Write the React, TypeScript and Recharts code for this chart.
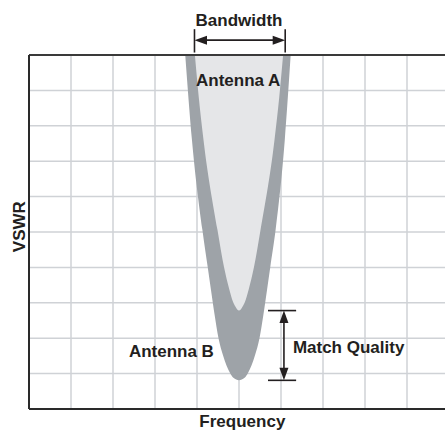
import React from 'react';
import {
  ComposedChart,
  Area,
  XAxis,
  YAxis,
  CartesianGrid,
  ReferenceLine,
  ReferenceDot,
} from 'recharts';

// Antenna B (outer, dark band) – frequency vs VSWR (grid units)
const freqB = [3.72, 3.88, 4.129, 4.255, 4.333, 4.419, 4.512, 4.619, 4.786, 4.867, 5.0, 5.133, 5.214, 5.381, 5.488, 5.581, 5.667, 5.745, 5.871, 6.09, 6.23];
const vswrB = [10, 7.6, 5.06, 4.01, 3.36, 2.66, 2.0, 1.52, 1.02, 0.88, 0.81, 0.88, 1.02, 1.52, 2.0, 2.66, 3.36, 4.01, 5.06, 7.6, 10];

// Antenna A (inner, light region)
const freqA = [3.95, 4.04, 4.155, 4.488, 4.643, 4.771, 4.857, 4.917, 5.0, 5.083, 5.143, 5.229, 5.357, 5.512, 5.845, 5.96, 6.05];
const vswrA = [10, 8.83, 7.6, 5.06, 4.01, 3.37, 3.03, 2.89, 2.78, 2.89, 3.03, 3.37, 4.01, 5.06, 7.6, 8.83, 10];

const gridTicks = [0, 1, 2, 3, 4, 5, 6, 7, 8, 9, 10];

// annotation anchors (data units)
const bandwidthEdges = [3.94, 6.1];
const bandwidthBar = [10.07, 10.73];
const bandwidthArrowY = 10.42;
const matchTicksX = [5.69, 6.36];
const matchArrowX = 6.07;

const seriesA = freqA.map((f, i) => ({ f, v: vswrA[i] }));
const seriesB = freqB.map((f, i) => ({ f, v: vswrB[i] }));
const matchTop = Math.min(...vswrA);
const matchBottom = Math.min(...vswrB);

const FONT = '"Liberation Sans", Arial, Helvetica, sans-serif';
const INK = '#231f20';
const DARK = '#9ea3a8';
const LIGHT = '#e5e6e8';
const GRID = '#cfd2d6';

const labelStyle = {
  fill: INK,
  fontSize: 17,
  fontWeight: 'bold',
  fontFamily: FONT,
};

const DoubleArrow = (props: any) => {
  const { x1, y1, x2, y2 } = props;
  const dx = x2 - x1;
  const dy = y2 - y1;
  const len = Math.hypot(dx, dy) || 1;
  const ux = dx / len;
  const uy = dy / len;
  const px = -uy;
  const py = ux;
  const L = 12.5;
  const W = 4.5;
  const head1 = `${x1},${y1} ${x1 + ux * L + px * W},${y1 + uy * L + py * W} ${x1 + ux * L - px * W},${y1 + uy * L - py * W}`;
  const head2 = `${x2},${y2} ${x2 - ux * L + px * W},${y2 - uy * L + py * W} ${x2 - ux * L - px * W},${y2 - uy * L - py * W}`;
  return (
    <g>
      <line
        x1={x1 + ux * L * 0.7}
        y1={y1 + uy * L * 0.7}
        x2={x2 - ux * L * 0.7}
        y2={y2 - uy * L * 0.7}
        stroke={INK}
        strokeWidth={1.6}
      />
      <polygon points={head1} fill={INK} />
      <polygon points={head2} fill={INK} />
    </g>
  );
};

export default function App() {
  return (
    <div
      style={{
        position: 'fixed',
        left: 0,
        top: 0,
        width: 445,
        height: 431,
        overflow: 'hidden',
        background: '#ffffff',
      }}
    >
      <ComposedChart
        width={449}
        height={431}
        margin={{ top: 55, right: 0, bottom: 22, left: 29 }}
      >
        <CartesianGrid stroke={GRID} strokeWidth={1.5} />
        <XAxis
          type="number"
          dataKey="f"
          domain={[0, 10]}
          ticks={gridTicks}
          allowDataOverflow
          hide
        />
        <YAxis
          type="number"
          domain={[0, 10]}
          ticks={gridTicks}
          allowDataOverflow
          hide
        />
        <Area
          data={seriesB}
          dataKey="v"
          type="monotone"
          baseValue={10}
          stroke="none"
          fill={DARK}
          fillOpacity={1}
          isAnimationActive={false}
        />
        <Area
          data={seriesA}
          dataKey="v"
          type="monotone"
          baseValue={10}
          stroke="none"
          fill={LIGHT}
          fillOpacity={1}
          isAnimationActive={false}
        />

        {/* frame */}
        <ReferenceLine y={10} stroke="#3a3a3a" strokeWidth={1.8} />
        <ReferenceLine y={0} stroke="#2a2a2a" strokeWidth={2} />
        <ReferenceLine x={0} stroke="#2a2a2a" strokeWidth={2} />

        {/* bandwidth bracket */}
        {bandwidthEdges.map((x) => (
          <ReferenceLine
            key={`bw-${x}`}
            segment={[
              { x, y: bandwidthBar[0] },
              { x, y: bandwidthBar[1] },
            ]}
            stroke={INK}
            strokeWidth={1.6}
            ifOverflow="visible"
          />
        ))}
        <ReferenceLine
          segment={[
            { x: bandwidthEdges[0], y: bandwidthArrowY },
            { x: bandwidthEdges[1], y: bandwidthArrowY },
          ]}
          ifOverflow="visible"
          shape={DoubleArrow}
        />

        {/* match quality bracket */}
        {[matchTop, matchBottom].map((y) => (
          <ReferenceLine
            key={`mq-${y}`}
            segment={[
              { x: matchTicksX[0], y },
              { x: matchTicksX[1], y },
            ]}
            stroke={INK}
            strokeWidth={1.6}
          />
        ))}
        <ReferenceLine
          segment={[
            { x: matchArrowX, y: matchTop },
            { x: matchArrowX, y: matchBottom },
          ]}
          shape={DoubleArrow}
        />

        {/* texts */}
        <ReferenceDot
          x={5.0}
          y={10.99}
          r={0}
          fill="none"
          stroke="none"
          ifOverflow="visible"
          label={{ value: 'Bandwidth', position: 'center', ...labelStyle }}
        />
        <ReferenceDot
          x={4.98}
          y={9.3}
          r={0}
          fill="none"
          stroke="none"
          label={{ value: 'Antenna A', position: 'center', ...labelStyle }}
        />
        <ReferenceDot
          x={3.39}
          y={1.64}
          r={0}
          fill="none"
          stroke="none"
          label={{ value: 'Antenna B', position: 'center', ...labelStyle }}
        />
        <ReferenceDot
          x={7.61}
          y={1.74}
          r={0}
          fill="none"
          stroke="none"
          label={{ value: 'Match Quality', position: 'center', ...labelStyle }}
        />
        <ReferenceDot
          x={5.08}
          y={-0.34}
          r={0}
          fill="none"
          stroke="none"
          ifOverflow="visible"
          label={{ value: 'Frequency', position: 'center', ...labelStyle }}
        />
        <ReferenceDot
          x={-0.24}
          y={5.15}
          r={0}
          fill="none"
          stroke="none"
          ifOverflow="visible"
          label={{ value: 'VSWR', position: 'center', angle: -90, ...labelStyle }}
        />
      </ComposedChart>
    </div>
  );
}
